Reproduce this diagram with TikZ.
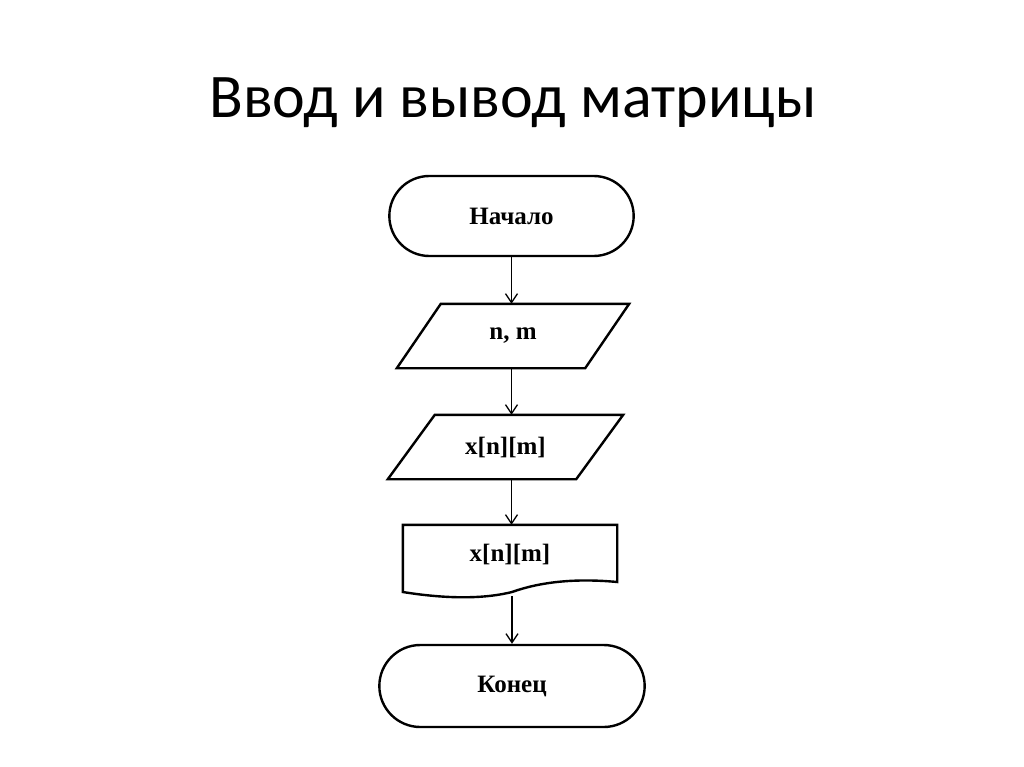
\documentclass[tikz,border=0pt]{standalone}
\usepackage{fontspec}
\setmainfont{Liberation Serif}
\newfontfamily\titlefont{Carlito}
\usetikzlibrary{shapes.misc,arrows.meta,calc}
\begin{document}
\begin{tikzpicture}[x=1pt,y=-1pt,
  shapeline/.style={line width=2.4pt,line join=miter},
  term/.style={rounded rectangle,draw,line width=2.4pt,font=\bfseries\fontsize{25}{30}\selectfont},
  boxtext/.style={font=\bfseries\fontsize{25}{30}\selectfont,inner sep=0pt},
  conn/.style={line width=1.3pt,-{Straight Barb[length=9pt,width=12pt,line width=1.3pt]}}]
\useasboundingbox (0,0) rectangle (1024,767);
\fill[white] (0,0) rectangle (1024,767);
\node[font=\titlefont\fontsize{62}{74}\selectfont,anchor=base] (title) at (513,118) {Ввод и вывод матрицы};
% start
\node[term,minimum width=251pt,minimum height=80pt] (start) at (511.5,216) {Начало};
% input 1
\node[boxtext,minimum width=232pt,minimum height=64pt] (in1) at (513,336) {n, m};
\draw[shapeline] ($(in1.north west)+(44,0)$) -- (in1.north east) -- ($(in1.south east)+(-44,0)$) -- (in1.south west) -- cycle;
% input 2
\node[boxtext,minimum width=235pt,minimum height=64pt] (in2) at (505.5,447) {x[n][m]};
\draw[shapeline] ($(in2.north west)+(47,0)$) -- (in2.north east) -- ($(in2.south east)+(-47,0)$) -- (in2.south west) -- cycle;
% document
\node[boxtext,minimum width=214pt,minimum height=58pt] (doc) at (510,554) {x[n][m]};
\coordinate (docb) at (512,596);
\draw[shapeline] (doc.south west) -- (doc.north west) -- (doc.north east) -- ($(doc.east)+(0,28)$)
  .. controls (575,578) and (540,582) .. (512,592) .. controls (480,600) and (440,598) .. ($(doc.west)+(0,38)$) -- cycle;
% end
\node[term,minimum width=272pt,minimum height=82pt] (end) at (512,686) {Конец};
% connectors
\draw[conn] (start.south) -- (start.south |- in1.north);
\draw[conn] (start.south |- in1.south) -- (start.south |- in2.north);
\draw[conn] (start.south |- in2.south) -- (start.south |- doc.north);
\draw[conn] (docb) -- (docb |- end.north);
\end{tikzpicture}
\end{document}
